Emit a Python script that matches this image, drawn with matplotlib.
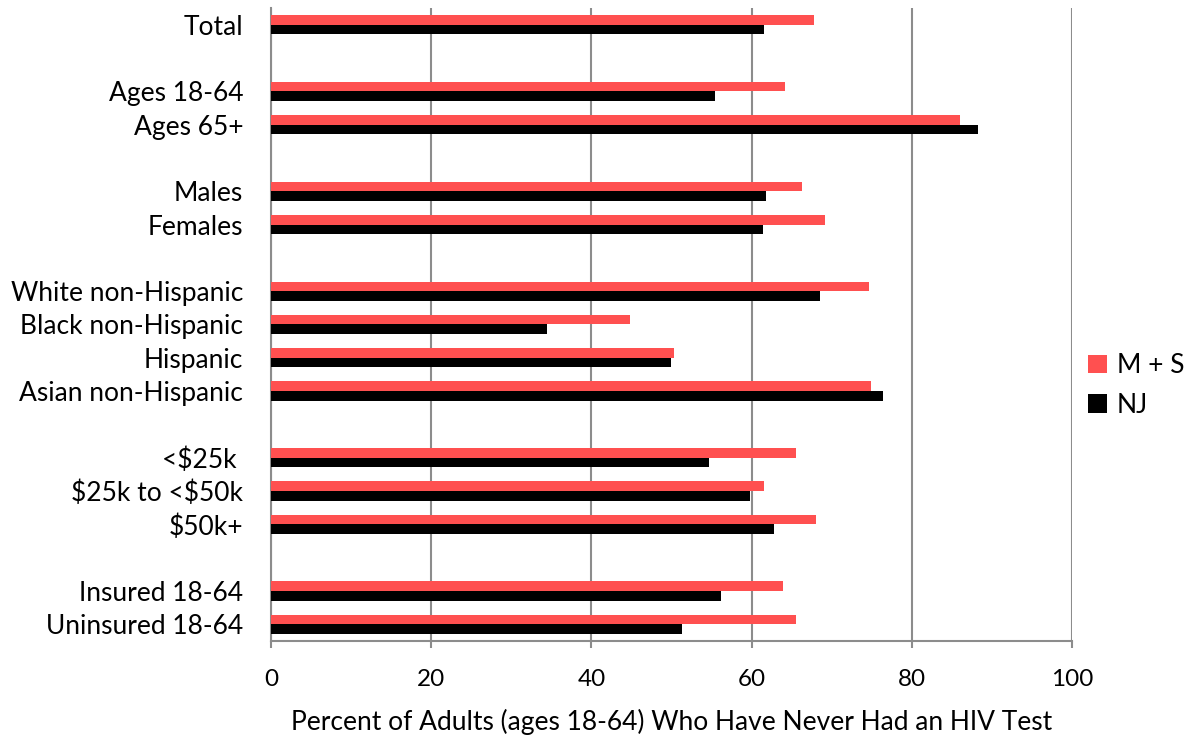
import numpy as np
import matplotlib
matplotlib.use('Agg')
import matplotlib.pyplot as plt

plt.rcParams['font.family'] = ['Lato', 'DejaVu Sans']

# data
categories = ['Total',
              'Ages 18-64', 'Ages 65+',
              'Males', 'Females',
              'White non-Hispanic', 'Black non-Hispanic', 'Hispanic', 'Asian non-Hispanic',
              '<\\$25k ', '\\$25k to <\\$50k', '\\$50k+',
              'Insured 18-64', 'Uninsured 18-64']
group_sizes = [1, 2, 2, 4, 3, 2]
ms_values = [67.8, 64.2, 86.0, 66.3, 69.2, 74.7, 44.8, 50.3, 74.9, 65.5, 61.6, 68.1, 63.9, 65.6]
nj_values = [61.6, 55.4, 88.2, 61.8, 61.4, 68.5, 34.5, 49.9, 76.4, 54.7, 59.8, 62.8, 56.2, 51.3]
series_names = ['M + S', 'NJ']
xticks = [0, 20, 40, 60, 80, 100]

# slot positions with an empty slot between groups
pos = []
slot = 0
for g in group_sizes:
    for k in range(g):
        pos.append(slot)
        slot += 1
    slot += 1
pos = np.array(pos)
nslots = slot - 1

fig = plt.figure(figsize=(11.86, 7.38), dpi=100)
ax = fig.add_axes([0.2285, 0.1314, 0.9039 - 0.2285, 0.9892 - 0.1314])

h = 0.29
ax.barh(pos - h / 2, ms_values, height=h, color='#ff5050', label=series_names[0], zorder=3)
ax.barh(pos + h / 2, nj_values, height=h, color='#000000', label=series_names[1], zorder=3)

ax.set_xlim(0, 100)
ax.set_ylim(nslots - 0.5, -0.5)
ax.set_xticks(xticks)
ax.set_xticklabels([str(t) for t in xticks], fontsize=17.5)
ax.set_yticks(pos)
ax.set_yticklabels(categories, fontsize=19)
ax.tick_params(axis='y', length=0, pad=20)
ax.tick_params(axis='x', length=5, width=1.5, color='#8c8c8c', pad=15)

ax.grid(axis='x', color='#8c8c8c', linewidth=1.5, zorder=0)
for s in ['top', 'right']:
    ax.spines[s].set_visible(False)
for s in ['left', 'bottom']:
    ax.spines[s].set_color('#8c8c8c')
    ax.spines[s].set_linewidth(1.5)

ax.set_xlabel('Percent of Adults (ages 18-64) Who Have Never Had an HIV Test', fontsize=19, labelpad=14)

ax.legend(loc='center left', bbox_to_anchor=(1.02, 0.404), frameon=False, fontsize=19,
          borderpad=0, borderaxespad=0,
          handlelength=0.7, handleheight=0.7, handletextpad=0.4, labelspacing=0.55)

fig.savefig('out.png', dpi=100)
